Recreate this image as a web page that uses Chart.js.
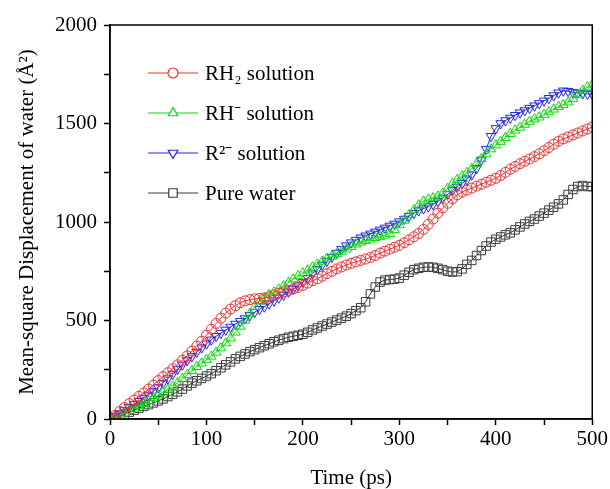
<!DOCTYPE html>
<html>
<head>
<meta charset="utf-8">
<script src="https://cdn.jsdelivr.net/npm/chart.js@4/dist/chart.umd.min.js"></script>
<style>
    body { margin: 0; background: #fff; }
    #wrap { width: 610px; height: 489px; }
</style>
</head>
<body>
<div id="wrap"><canvas id="msd-chart" width="610" height="489"></canvas></div>
<script>
// Time axis (ps)
const times = [
    0, 5, 10, 15, 20, 25, 30, 35, 40, 45, 50, 55, 60, 65, 70, 75, 80, 85, 90, 95,
    100, 105, 110, 115, 120, 125, 130, 135, 140, 145, 150, 155, 160, 165, 170, 175, 180, 185, 190, 195,
    200, 205, 210, 215, 220, 225, 230, 235, 240, 245, 250, 255, 260, 265, 270, 275, 280, 285, 290, 295,
    300, 305, 310, 315, 320, 325, 330, 335, 340, 345, 350, 355, 360, 365, 370, 375, 380, 385, 390, 395,
    400, 405, 410, 415, 420, 425, 430, 435, 440, 445, 450, 455, 460, 465, 470, 475, 480, 485, 490, 495,
    500
];

// MSD values (A^2)
const rh2Values = [
    0, 18, 38, 58, 78, 96, 115, 133, 152, 172,
    195, 215, 235, 255, 275, 298, 320, 345, 370, 395,
    425, 455, 485, 512, 538, 558, 575, 590, 600, 606,
    610, 612, 614, 620, 630, 638, 645, 652, 660, 668,
    678, 690, 702, 712, 725, 738, 750, 762, 772, 782,
    790, 798, 805, 812, 820, 830, 842, 852, 862, 872,
    882, 895, 910, 925, 942, 962, 988, 1015, 1045, 1072,
    1095, 1118, 1138, 1152, 1162, 1172, 1182, 1192, 1202, 1212,
    1222, 1236, 1252, 1268, 1282, 1296, 1308, 1320, 1332, 1346,
    1362, 1378, 1395, 1410, 1422, 1432, 1442, 1452, 1462, 1472,
    1482
];
const rhValues = [
    0, 8, 18, 30, 42, 54, 66, 78, 92, 106,
    120, 135, 150, 166, 183, 205, 225, 245, 265, 283,
    300, 318, 338, 360, 385, 410, 440, 470, 500, 535,
    570, 598, 615, 630, 643, 658, 675, 692, 710, 726,
    740, 755, 770, 785, 800, 815, 825, 838, 850, 862,
    875, 887, 897, 905, 912, 920, 926, 932, 940, 960,
    985, 1008, 1035, 1060, 1085, 1105, 1115, 1122, 1130, 1145,
    1170, 1195, 1215, 1232, 1250, 1270, 1295, 1320, 1345, 1370,
    1390, 1408, 1428, 1448, 1465, 1480, 1495, 1510, 1522, 1532,
    1545, 1558, 1572, 1585, 1595, 1608, 1625, 1648, 1668, 1685,
    1695
];
const r2Values = [
    0, 12, 28, 45, 60, 75, 90, 106, 122, 140,
    160, 182, 205, 228, 252, 275, 297, 318, 340, 362,
    382, 402, 420, 436, 452, 467, 482, 496, 510, 526,
    542, 557, 570, 585, 600, 615, 630, 645, 660, 677,
    695, 715, 738, 760, 782, 802, 822, 842, 862, 880,
    895, 908, 920, 930, 940, 950, 960, 970, 980, 990,
    1002, 1015, 1030, 1045, 1058, 1068, 1078, 1090, 1105, 1122,
    1140, 1160, 1178, 1196, 1215, 1240, 1272, 1315, 1370, 1435,
    1475, 1500, 1515, 1528, 1542, 1555, 1566, 1578, 1590, 1602,
    1615, 1628, 1642, 1656, 1666, 1664, 1658, 1655, 1652, 1650,
    1650
];
const waterValues = [
    0, 8, 16, 25, 35, 45, 55, 64, 73, 82,
    92, 102, 114, 126, 138, 152, 168, 182, 194, 206,
    218, 230, 245, 260, 275, 290, 305, 318, 330, 342,
    352, 362, 372, 382, 392, 400, 408, 415, 420, 425,
    430, 440, 452, 462, 472, 482, 492, 502, 512, 522,
    535, 550, 565, 595, 635, 670, 695, 705, 708, 710,
    715, 730, 745, 758, 765, 770, 772, 770, 765, 758,
    750, 746, 748, 762, 785, 805, 830, 855, 878, 898,
    912, 924, 935, 945, 960, 975, 990, 1003, 1015, 1030,
    1045, 1060, 1075, 1092, 1112, 1140, 1165, 1180, 1185, 1180,
    1180
];

const seriesLabels = ['RH\u2082 solution', 'RH\u207B solution', 'R\u00B2\u207B solution', 'Pure water'];

const FONT = "'Liberation Serif', 'Times New Roman', serif";

function toPoints(values) {
    return values.map((v, i) => ({ x: times[i], y: v }));
}

function makeDataset(label, values, color, style, rotation, radius) {
    return {
        label: label,
        data: toPoints(values),
        borderColor: color,
        borderWidth: 1,
        pointStyle: style,
        pointRotation: rotation,
        pointRadius: radius,
        pointBorderColor: color,
        pointBorderWidth: 1,
        pointBackgroundColor: 'rgba(255,255,255,0)',
        fill: false,
        tension: 0
    };
}

// Legend drawn inside the plot, upper left
const innerLegend = {
    id: 'innerLegend',
    afterDraw(chart) {
        const ctx = chart.ctx;
        const area = chart.chartArea;
        const x0 = area.left + 38;
        const x1 = area.left + 88;
        const textX = area.left + 95;
        ctx.save();
        chart.data.datasets.forEach((ds, i) => {
            const y = area.top + 48 + i * 40;
            ctx.strokeStyle = ds.borderColor;
            ctx.lineWidth = 1.2;
            ctx.beginPath();
            ctx.moveTo(x0, y);
            ctx.lineTo(x1, y);
            ctx.stroke();
            ctx.fillStyle = '#fff';
            Chart.helpers.drawPoint(ctx, {
                pointStyle: ds.pointStyle,
                rotation: ds.pointRotation,
                radius: ds.pointRadius,
                borderWidth: 1.2
            }, (x0 + x1) / 2, y);
            ctx.fillStyle = '#000';
            ctx.font = '21px ' + FONT;
            ctx.textBaseline = 'middle';
            ctx.textAlign = 'left';
            ctx.fillText(ds.label, textX, y + 1);
        });
        ctx.restore();
    }
};

// Box around the plot area
const frame = {
    id: 'frame',
    afterDraw(chart) {
        const ctx = chart.ctx;
        const a = chart.chartArea;
        ctx.save();
        ctx.strokeStyle = '#000';
        ctx.lineWidth = 1.5;
        ctx.strokeRect(a.left, a.top, a.right - a.left, a.bottom - a.top);
        ctx.restore();
    }
};

const whiteBg = {
    id: 'whiteBg',
    beforeDraw(chart) {
        const ctx = chart.ctx;
        ctx.save();
        ctx.fillStyle = '#fff';
        ctx.fillRect(0, 0, chart.width, chart.height);
        ctx.restore();
    }
};

new Chart(document.getElementById('msd-chart').getContext('2d'), {
    type: 'line',
    data: {
        datasets: [
            makeDataset(seriesLabels[0], rh2Values, 'rgb(255,45,45)', 'circle', 0, 5),
            makeDataset(seriesLabels[1], rhValues, 'rgb(0,225,0)', 'triangle', 0, 5.5),
            makeDataset(seriesLabels[2], r2Values, 'rgb(35,35,255)', 'triangle', 180, 5.5),
            makeDataset(seriesLabels[3], waterValues, 'rgb(60,60,60)', 'rect', 0, 6)
        ]
    },
    options: {
        responsive: false,
        animation: false,
        devicePixelRatio: 1,
        layout: {
            padding: { left: 0, top: 25, right: 17, bottom: 0 }
        },
        plugins: {
            legend: { display: false },
            tooltip: { enabled: false }
        },
        scales: {
            x: {
                type: 'linear',
                min: 0,
                max: 500,
                afterFit: function(scale) { scale.height = 70; },
                border: { display: true, color: '#000', width: 1.5 },
                grid: {
                    drawOnChartArea: false,
                    drawTicks: true,
                    tickLength: 6,
                    tickColor: '#000',
                    tickWidth: 1.5
                },
                ticks: {
                    stepSize: 50,
                    autoSkip: false,
                    maxRotation: 0,
                    padding: 2,
                    color: '#000',
                    font: { family: FONT, size: 21 },
                    callback: function(value) {
                        return value % 100 === 0 ? String(value) : '';
                    }
                },
                title: {
                    display: true,
                    text: 'Time (ps)',
                    color: '#000',
                    font: { family: FONT, size: 21, lineHeight: 1 },
                    padding: 0
                }
            },
            y: {
                type: 'linear',
                min: 0,
                max: 2000,
                afterFit: function(scale) { scale.width = 110; },
                border: { display: true, color: '#000', width: 1.5 },
                grid: {
                    drawOnChartArea: false,
                    drawTicks: true,
                    tickLength: 6,
                    tickColor: '#000',
                    tickWidth: 1.5
                },
                ticks: {
                    stepSize: 250,
                    autoSkip: false,
                    padding: 7,
                    color: '#000',
                    font: { family: FONT, size: 21 },
                    callback: function(value) {
                        return value % 500 === 0 ? String(value) : '';
                    }
                },
                title: {
                    display: true,
                    text: 'Mean-square Displacement of water (\u00C5\u00B2)',
                    color: '#000',
                    font: { family: FONT, size: 21, lineHeight: 1.2 },
                    padding: { top: 15, bottom: 0 }
                }
            }
        }
    },
    plugins: [whiteBg, innerLegend, frame]
});
</script>
</body>
</html>
